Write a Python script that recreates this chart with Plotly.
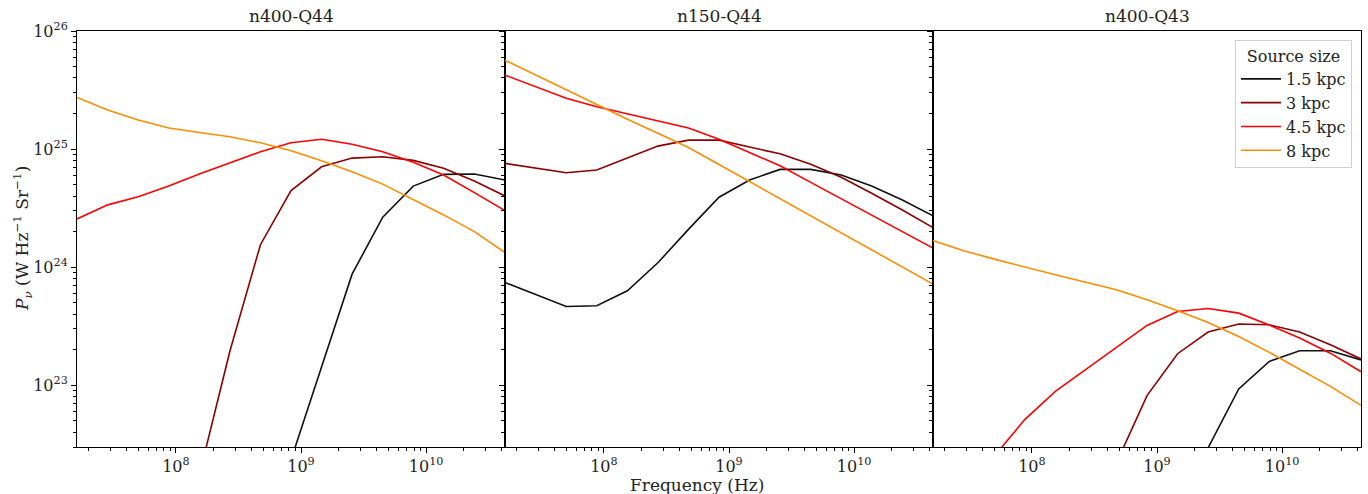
import math
import plotly.graph_objects as go
from plotly.subplots import make_subplots

# Frequency grid (Hz)
freq = [1.62e7, 2.85e7, 5.00e7, 8.77e7, 1.54e8, 2.70e8, 4.74e8, 8.32e8,
        1.46e9, 2.56e9, 4.50e9, 7.89e9, 1.38e10, 2.43e10, 4.27e10]

panels = ["n400-Q44", "n150-Q44", "n400-Q43"]
sizes = ["1.5 kpc", "3 kpc", "4.5 kpc", "8 kpc"]
colors = ["#111111", "#8b0000", "#ff0000", "#ff8c00"]

N = None
# Panel 1: n400-Q44
p1_15 = [N, N, N, N, N, N, N, 2.34e22, 1.43e23, 8.73e23, 2.65e24, 4.86e24, 6.11e24, 6.15e24, 5.47e24]
p1_3 = [N, N, N, N, 1.74e22, 1.94e23, 1.55e24, 4.45e24, 7.08e24, 8.39e24, 8.61e24, 8.02e24, 6.87e24, 5.37e24, 4.01e24]
p1_45 = [2.56e24, 3.37e24, 3.95e24, 4.86e24, 6.15e24, 7.66e24, 9.48e24, 1.13e25, 1.21e25, 1.10e25, 9.48e24, 7.73e24, 6.03e24, 4.28e24, 3.01e24]
p1_8 = [2.74e25, 2.14e25, 1.76e25, 1.51e25, 1.38e25, 1.27e25, 1.13e25, 9.68e24, 7.96e24, 6.43e24, 5.05e24, 3.75e24, 2.77e24, 2.00e24, 1.33e24]

# Panel 2: n150-Q44
p2_15 = [7.41e23, 5.86e23, 4.65e23, 4.71e23, 6.31e23, 1.09e24, 2.09e24, 3.91e24, 5.47e24, 6.73e24, 6.73e24, 6.03e24, 4.86e24, 3.71e24, 2.72e24]
p2_3 = [7.57e24, 6.92e24, 6.31e24, 6.64e24, 8.34e24, 1.06e25, 1.19e25, 1.19e25, 1.04e25, 9.12e24, 7.43e24, 5.77e24, 4.23e24, 3.05e24, 2.16e24]
p2_45 = [4.23e25, 3.37e25, 2.69e25, 2.28e25, 1.99e25, 1.73e25, 1.51e25, 1.21e25, 9.38e24, 7.23e24, 5.22e24, 3.78e24, 2.75e24, 2.00e24, 1.45e24]
p2_8 = [5.65e25, 4.23e25, 3.16e25, 2.36e25, 1.79e25, 1.36e25, 1.03e25, 7.40e24, 5.30e24, 3.78e24, 2.70e24, 1.93e24, 1.39e24, 9.95e23, 7.18e23]

# Panel 3: n400-Q43
p3_15 = [N, N, N, N, N, N, N, N, N, 2.95e22, 9.31e22, 1.59e23, 1.96e23, 1.96e23, 1.64e23]
p3_3 = [N, N, N, N, N, N, 2.20e22, 8.17e22, 1.85e23, 2.82e23, 3.30e23, 3.25e23, 2.82e23, 2.20e23, 1.67e23]
p3_45 = [N, N, 2.51e22, 5.12e22, 8.87e22, 1.36e23, 2.09e23, 3.21e23, 4.22e23, 4.47e23, 4.08e23, 3.24e23, 2.51e23, 1.87e23, 1.30e23]
p3_8 = [1.68e24, 1.38e24, 1.17e24, 1.00e24, 8.61e23, 7.46e23, 6.43e23, 5.30e23, 4.28e23, 3.40e23, 2.59e23, 1.90e23, 1.37e23, 9.79e22, 6.76e22]

data = [[p1_15, p1_3, p1_45, p1_8],
        [p2_15, p2_3, p2_45, p2_8],
        [p3_15, p3_3, p3_45, p3_8]]

x_ticks = [1e8, 1e9, 1e10]
x_ticktext = ["10<sup>8</sup>", "10<sup>9</sup>", "10<sup>10</sup>"]
y_ticks = [1e23, 1e24, 1e25, 1e26]
y_ticktext = ["10<sup>23</sup>", "10<sup>24</sup>", "10<sup>25</sup>", "10<sup>26</sup>"]

FONT = "DejaVu Serif"
TXT = "#222222"

fig = make_subplots(rows=1, cols=3, shared_yaxes=True, horizontal_spacing=0)

for c in range(3):
    for k in range(4):
        xs = [f for f, v in zip(freq, data[c][k]) if v is not None]
        ys = [v for v in data[c][k] if v is not None]
        fig.add_trace(go.Scatter(x=xs, y=ys, mode="lines", name=sizes[k],
                                 line=dict(color=colors[k], width=1.6),
                                 showlegend=(c == 2), legendrank=k + 1),
                      row=1, col=c + 1)

xr = [math.log10(freq[0]), math.log10(freq[-1])]
yr = [math.log10(3.0e22), 26]

x_minor = [m * 10.0 ** e for e in range(7, 11) for m in range(2, 10)]
y_minor = [m * 10.0 ** e for e in range(22, 26) for m in range(2, 10)]

for c in range(1, 4):
    fig.update_xaxes(type="log", range=xr, tickvals=x_ticks, ticktext=x_ticktext,
                     ticks="outside", ticklen=5, tickwidth=1, tickcolor="black",
                     minor=dict(tickvals=x_minor, ticks="outside", ticklen=3,
                                tickwidth=0.8, tickcolor="black", showgrid=False),
                     showline=True, linecolor="black", linewidth=1, mirror=True,
                     showgrid=False, zeroline=False,
                     tickfont=dict(family=FONT, size=16, color=TXT),
                     row=1, col=c)
    fig.update_yaxes(type="log", range=yr, tickvals=y_ticks, ticktext=y_ticktext,
                     ticks="outside", ticklen=5, tickwidth=1, tickcolor="black",
                     minor=dict(tickvals=y_minor, ticks="outside", ticklen=3,
                                tickwidth=0.8, tickcolor="black", showgrid=False),
                     showline=True, linecolor="black", linewidth=1, mirror=True,
                     showgrid=False, zeroline=False,
                     showticklabels=(c == 1),
                     tickfont=dict(family=FONT, size=16, color=TXT),
                     row=1, col=c)

annos = []
centers = [1 / 6, 0.5, 5 / 6]
for c in range(3):
    annos.append(dict(text=panels[c], x=centers[c], y=1, xref="paper", yref="paper",
                      xanchor="center", yanchor="bottom", yshift=3, showarrow=False,
                      font=dict(family=FONT, size=17, color=TXT)))
annos.append(dict(text="Frequency (Hz)", x=0.483, y=0, xref="paper", yref="paper",
                  xanchor="center", yanchor="top", yshift=-26, showarrow=False,
                  font=dict(family=FONT, size=17, color=TXT)))
annos.append(dict(text="<i>P</i><sub><i>ν</i></sub> (W Hz<sup>−1</sup> Sr<sup>−1</sup>)",
                  x=0, y=0.5, xref="paper", yref="paper", textangle=-90,
                  xanchor="center", yanchor="middle", xshift=-55, showarrow=False,
                  font=dict(family=FONT, size=17, color=TXT)))

fig.update_layout(
    width=1368, height=494,
    margin=dict(l=77, r=7, t=31, b=47),
    paper_bgcolor="white", plot_bgcolor="white",
    annotations=annos,
    showlegend=True,
    legend=dict(x=0.993, y=0.978, xanchor="right", yanchor="top",
                bgcolor="white", bordercolor="#d0d0d0", borderwidth=1,
                font=dict(family=FONT, size=16, color=TXT),
                title=dict(text="Source size", side="top center",
                           font=dict(family=FONT, size=16, color=TXT)),
                tracegroupgap=0, itemwidth=40),
)

fig.write_html("out.html",
               config={"displayModeBar": False},
               post_script="document.body.style.margin='0';"
                           "document.body.style.padding='0';"
                           "document.body.style.overflow='hidden';")
